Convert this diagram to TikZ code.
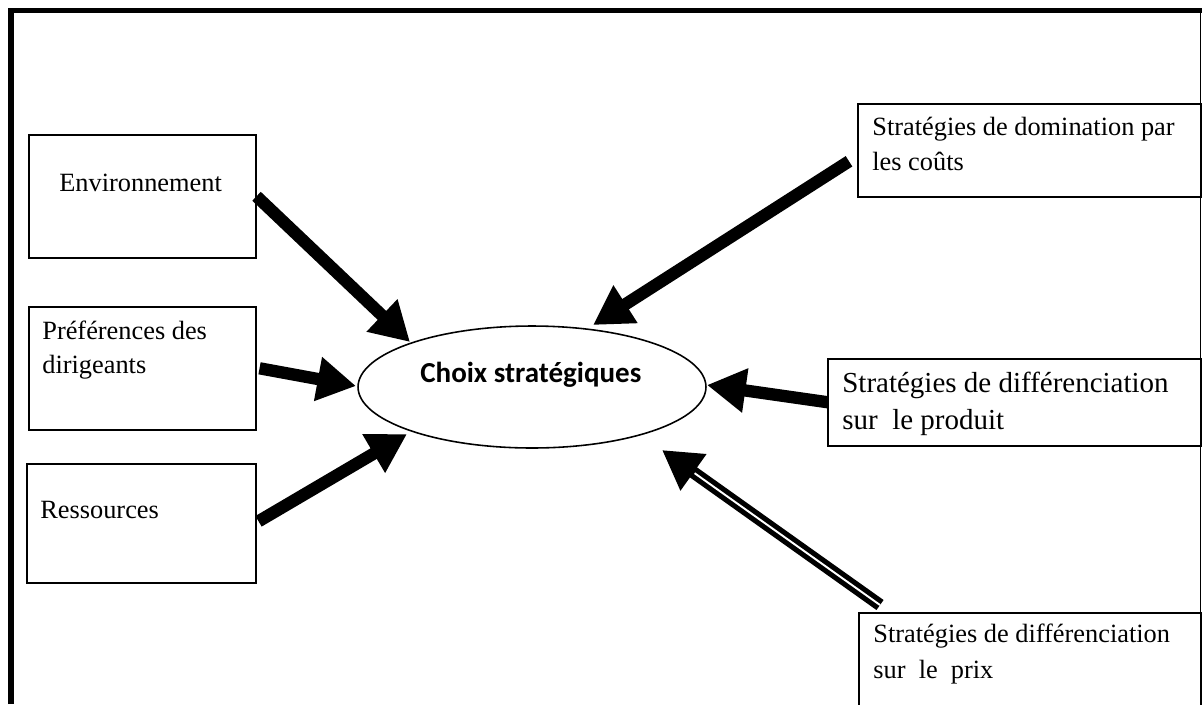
\documentclass[tikz,border=0pt]{standalone}
\usepackage{fontspec}
\setmainfont{Liberation Serif}
\newfontfamily\carlito{Carlito}
\usetikzlibrary{shapes,arrows.meta}
\tikzset{
	box/.style    = {draw, line width=0.9pt, rectangle, anchor=north west, inner sep=0pt},
	txt/.style    = {inner sep=0pt, align=left, font=\fontsize{15pt}{19.6pt}\selectfont},
	choice/.style = {draw, line width=0.9pt, ellipse, inner sep=0pt,
		minimum width=6.96cm, minimum height=2.44cm},
	push/.style   = {line width=7pt, -{Triangle[length=22pt,width=24pt]}},
	tip/.style    = {coordinate} % arrow end
}

\begin{document}
\begin{tikzpicture}[x=0.02cm, y=-0.02cm]
	\useasboundingbox (0,0) rectangle (1202,704);
	\clip (0,0) rectangle (1202,704);
	% frame
	\draw[line width=3.4pt] (11,704) -- (11,10.5) -- (1202,10.5);
	\draw[line width=0.9pt] (1200.5,10.5) -- (1200.5,704);

	\draw
	node at (28,134) [box, minimum width=4.54cm, minimum height=2.46cm] (env) {}
	node at (28,306) [box, minimum width=4.54cm, minimum height=2.46cm] (pref) {}
	node at (26,463) [box, minimum width=4.58cm, minimum height=2.38cm] (res) {}
	node at (857,103) [box, minimum width=6.86cm, minimum height=1.86cm] (dom) {}
	node at (827,358) [box, minimum width=7.46cm, minimum height=1.74cm] (prod) {}
	node at (858,612) [box, minimum width=6.84cm, minimum height=2.00cm] (prix) {}
	node at (532,387) [choice] (choix) {};

	\draw
	node at (59,191) [txt, anchor=base west] (envtext) {Environnement}
	node at (42,321) [txt, anchor=north west, font=\fontsize{15pt}{19.3pt}\selectfont] (preftext) {Préférences des\\dirigeants}
	node at (40,518) [txt, anchor=base west] (restext) {Ressources}
	node at (872,117) [txt, anchor=north west] (domtext) {Stratégies de domination par\\les coûts}
	node at (842,372) [txt, anchor=north west, font=\fontsize{16.5pt}{21pt}\selectfont] (prodtext) {Stratégies de différenciation\\sur\ \ le produit}
	node at (873,624) [txt, anchor=north west, font=\fontsize{15pt}{20.4pt}\selectfont] (prixtext) {Stratégies de différenciation\\sur\ \ le\ \ prix}
	node at (420,382) [anchor=base west, inner sep=0pt, font=\carlito\bfseries\fontsize{16.5pt}{20pt}\selectfont] (choixtext) {Choix stratégiques};

	\coordinate[tip] (envtip) at (410,342);
	\coordinate[tip] (preftip) at (356,386);
	\coordinate[tip] (restip) at (407,434);
	\coordinate[tip] (domtip) at (593,325);
	\coordinate[tip] (prodtip) at (707,385);
	\coordinate[tip] (prixtip) at (662,450);

	\draw[push] (env.east) -- (envtip);
	\draw[push] ([shift={(3,0)}]pref.east) -- (preftip);
	\draw[push] ([shift={(2,-2)}]res.east) -- (restip);
	\draw[push] ([shift={(-8,11)}]dom.west) -- (domtip);
	\draw[push] ([shift={(1,0)}]prod.west) -- (prodtip);
	\draw[push] ([shift={(22,-7)}]prix.north west) -- (prixtip);
	\draw[white, line width=1.1pt, shift={(-1.9,2.7)}, shorten >=0.8cm]
		([shift={(22,-7)}]prix.north west) -- (prixtip);
\end{tikzpicture}
\end{document}
